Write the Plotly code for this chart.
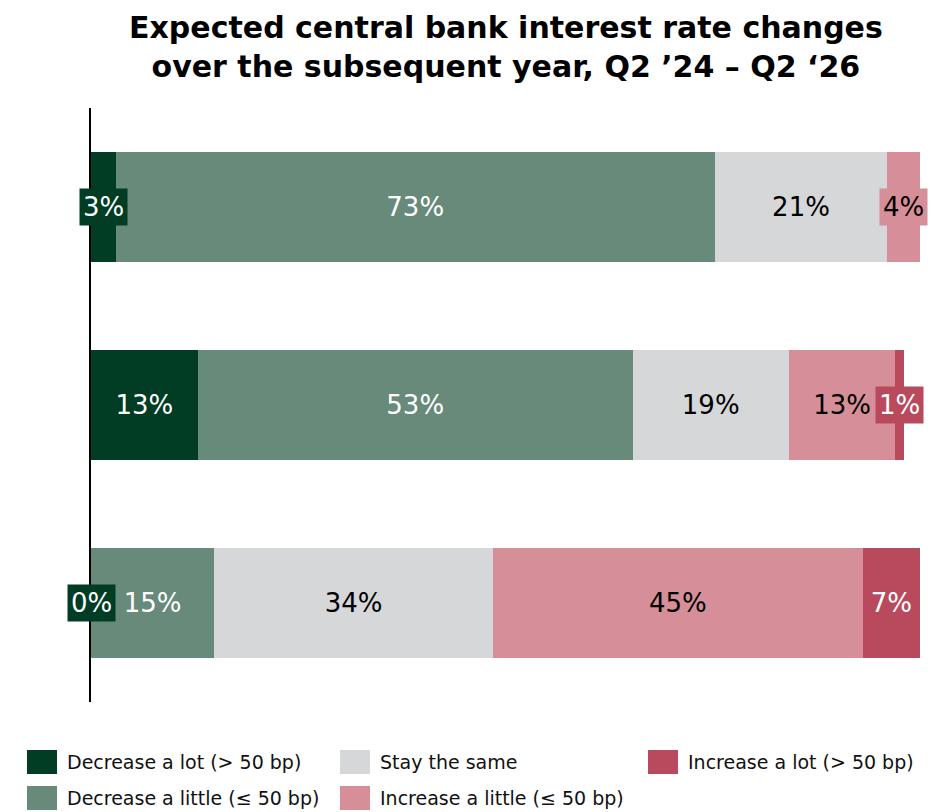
import plotly.graph_objects as go

# Survey periods (top to bottom)
periods = ["Q2 '24", "Q2 '25", "Q2 '26"]

# Response categories and their shares (%)
series_names = [
    "Decrease a lot (> 50 bp)",
    "Decrease a little (≤ 50 bp)",
    "Stay the same",
    "Increase a little (≤ 50 bp)",
    "Increase a lot (> 50 bp)",
]
decrease_lot = [3, 13, 0]
decrease_little = [73, 53, 15]
stay_same = [21, 19, 34]
increase_little = [4, 13, 45]
increase_lot = [0, 1, 7]

series_values = [decrease_lot, decrease_little, stay_same, increase_little, increase_lot]
colors = ["#003d24", "#678a7a", "#d6d7d9", "#d68e98", "#b94a5e"]
text_colors = ["white", "white", "black", "black", "white"]

# Which values get a boxed callout label instead of an in-bar label
callouts = {(0, 0), (3, 0), (4, 1), (0, 2)}

W, H = 947, 812
L, R, T, B = 91, 27, 108, 110
FONT = "DejaVu Sans"
LABEL_SIZE = 26

fig = go.Figure()
for i, (name, vals) in enumerate(zip(series_names, series_values)):
    texts = []
    for j, v in enumerate(vals):
        if (i, j) in callouts or v == 0:
            texts.append("")
        else:
            texts.append(f"{v}%")
    fig.add_trace(go.Bar(
        y=periods, x=vals, name=name, orientation="h",
        marker=dict(color=colors[i], line=dict(width=0)),
        text=texts, textposition="inside", insidetextanchor="middle",
        textfont=dict(family=FONT, size=LABEL_SIZE, color=text_colors[i]),
        cliponaxis=False, showlegend=False,
    ))

# Boxed labels for the narrow segments, centred on each segment
for (i, j) in sorted(callouts):
    start = sum(series_values[k][j] for k in range(i))
    v = series_values[i][j]
    fig.add_annotation(
        x=start + v / 2, y=periods[j], xref="x", yref="y",
        text=f"{v}%", showarrow=False,
        font=dict(family=FONT, size=LABEL_SIZE, color=text_colors[i]),
        bgcolor=colors[i], borderpad=3,
    )

# Helpers converting page pixels to paper coordinates
plot_w = W - L - R
plot_h = H - T - B

def px_x(px):
    return (px - L) / plot_w

def px_y(py):
    return (H - B - py) / plot_h

# Title
fig.add_annotation(
    x=0.5, y=px_y(47), xref="paper", yref="paper",
    xanchor="center", yanchor="middle", showarrow=False,
    text="<b>Expected central bank interest rate changes<br>over the subsequent year, Q2 ’24 – Q2 ‘26</b>",
    font=dict(family=FONT, size=30, color="black"),
)

# Legend laid out in three columns beneath the chart
legend_slots = [(27, 762), (27, 798), (340, 762), (340, 798), (648, 762)]
for (sx, sy), name, col in zip(legend_slots, series_names, colors):
    fig.add_shape(
        type="rect", xref="paper", yref="paper",
        x0=px_x(sx), x1=px_x(sx + 30), y0=px_y(sy - 12), y1=px_y(sy + 12),
        fillcolor=col, line=dict(width=0),
    )
    fig.add_annotation(
        x=px_x(sx + 38), y=px_y(sy), xref="paper", yref="paper",
        text=name, showarrow=False, xanchor="left", yanchor="middle",
        font=dict(family=FONT, size=19, color="#111111"),
    )

fig.update_layout(
    width=W, height=H,
    margin=dict(l=L, r=R, t=T, b=B),
    paper_bgcolor="white", plot_bgcolor="white",
    barmode="stack", bargap=0.445,
    xaxis=dict(range=[0, 101], visible=False, fixedrange=True),
    yaxis=dict(
        autorange="reversed", showticklabels=False, ticks="",
        showline=True, linecolor="black", linewidth=1.5,
        showgrid=False, zeroline=False,
    ),
    showlegend=False,
)

fig.write_html("out.html")
